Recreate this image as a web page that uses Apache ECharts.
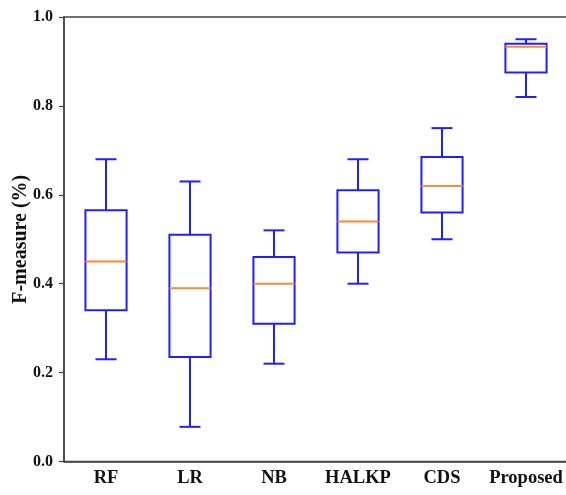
<!DOCTYPE html>
<html>
<head>
<meta charset="utf-8">
<script src="https://cdn.jsdelivr.net/npm/echarts@6/dist/echarts.min.js"></script>
<style>
html,body{margin:0;padding:0;background:#fff;}
#chart{width:566px;height:495px;}
</style>
</head>
<body>
<div id="chart"></div>
<script>
const categories = ['RF', 'LR', 'NB', 'HALKP', 'CDS', 'Proposed'];
const mins    = [0.23, 0.078, 0.22, 0.40, 0.50, 0.82];
const q1s     = [0.34, 0.235, 0.31, 0.47, 0.56, 0.875];
const medians = [0.45, 0.39, 0.40, 0.54, 0.62, 0.933];
const q3s     = [0.565, 0.51, 0.46, 0.61, 0.685, 0.94];
const maxs    = [0.68, 0.63, 0.52, 0.68, 0.75, 0.95];
const yTicks  = [0, 0.2, 0.4, 0.6, 0.8, 1.0];
const yLabel  = 'F-measure (%)';

const boxData = categories.map((c, i) => [i, mins[i], q1s[i], medians[i], q3s[i], maxs[i]]);

const BLUE = '#1f1fff';
const ORANGE = '#fb8a30';
const FONT = '"Liberation Serif", "Times New Roman", serif';

function renderBox(params, api) {
  const x = api.value(0);
  const bw = api.size([1, 0])[0];
  const halfBox = bw * 0.245;
  const halfCap = bw * 0.125;
  const pMin = api.coord([x, api.value(1)]);
  const pQ1 = api.coord([x, api.value(2)]);
  const pMed = api.coord([x, api.value(3)]);
  const pQ3 = api.coord([x, api.value(4)]);
  const pMax = api.coord([x, api.value(5)]);
  const cx = pMed[0];
  const ls = {stroke: BLUE, lineWidth: 2, fill: null};
  return {
    type: 'group',
    children: [
      {type: 'line', shape: {x1: cx, y1: pQ1[1], x2: cx, y2: pMin[1]}, style: ls},
      {type: 'line', shape: {x1: cx, y1: pQ3[1], x2: cx, y2: pMax[1]}, style: ls},
      {type: 'line', shape: {x1: cx - halfCap, y1: pMin[1], x2: cx + halfCap, y2: pMin[1]}, style: ls},
      {type: 'line', shape: {x1: cx - halfCap, y1: pMax[1], x2: cx + halfCap, y2: pMax[1]}, style: ls},
      {type: 'rect', shape: {x: cx - halfBox, y: pQ3[1], width: halfBox * 2, height: pQ1[1] - pQ3[1]},
        style: {stroke: BLUE, lineWidth: 2, fill: '#fff'}},
      {type: 'line', shape: {x1: cx - halfBox, y1: pMed[1], x2: cx + halfBox, y2: pMed[1]},
        style: {stroke: ORANGE, lineWidth: 2}}
    ]
  };
}

const chart = echarts.init(document.getElementById('chart'));
chart.setOption({
  backgroundColor: '#fff',
  animation: false,
  grid: {left: 64, right: -2, top: 17, bottom: 33.5, show: true, borderColor: '#444', borderWidth: 1.5,
    containLabel: false, outerBoundsMode: 'none'},
  xAxis: {
    type: 'category',
    data: categories,
    boundaryGap: true,
    axisLine: {lineStyle: {color: '#444', width: 1.5}},
    axisTick: {alignWithLabel: true, length: 5, lineStyle: {color: '#444', width: 1.2}},
    axisLabel: {interval: 0, color: '#111', fontFamily: FONT, fontWeight: 'bold', fontSize: 18.5, margin: 7}
  },
  yAxis: {
    type: 'value',
    min: yTicks[0],
    max: yTicks[yTicks.length - 1],
    interval: 0.2,
    name: yLabel,
    nameLocation: 'middle',
    nameGap: 33,
    nameMoveOverlap: false,
    nameTextStyle: {color: '#111', fontFamily: FONT, fontWeight: 'bold', fontSize: 20},
    axisLine: {show: true, lineStyle: {color: '#444', width: 1.5}},
    axisTick: {show: true, length: 5, lineStyle: {color: '#444', width: 1.2}},
    splitLine: {show: false},
    axisLabel: {color: '#111', fontFamily: FONT, fontWeight: 'bold', fontSize: 16, margin: 11,
      formatter: v => v.toFixed(1)}
  },
  series: [{
    type: 'custom',
    renderItem: renderBox,
    encode: {x: 0, y: [1, 2, 3, 4, 5]},
    data: boxData,
    clip: false
  }]
});
</script>
</body>
</html>
